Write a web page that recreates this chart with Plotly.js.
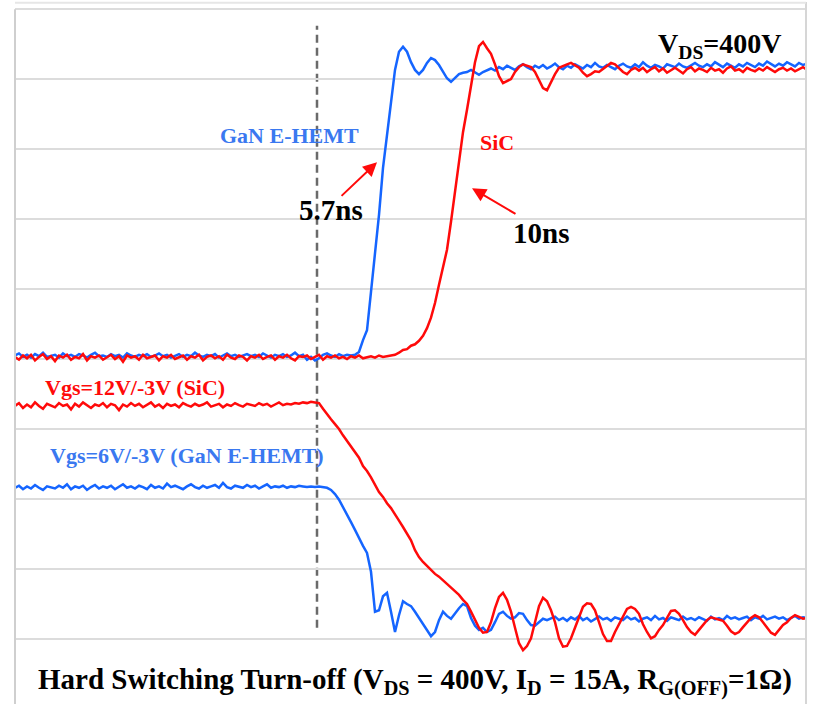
<!DOCTYPE html>
<html>
<head>
<meta charset="utf-8">
<script src="https://cdn.plot.ly/plotly-3.0.1.min.js"></script>
<style>html,body{margin:0;padding:0;background:#fff;}#chart{width:813px;height:704px;}</style>
</head>
<body>
<div id="chart"></div>
<script>
// Oscilloscope capture: sample interval 0.5 time-units, start at 0.
// Vertical values in screen divisions (grid = 1 div).
var sampleStart = 0;
var sampleStep = 0.5;

var ganVds = [
4.05,4.08,4.03,4.06,4.02,4.07,4.04,4.09,4.03,4.05,
4.06,4.02,4.08,4.04,4.06,4.03,4.07,4.05,4.02,4.06,
4.09,4.04,4.05,4.03,4.07,4.04,4.06,4.02,4.08,4.05,
4.03,4.06,4.04,4.07,4.03,4.05,4.08,4.04,4.06,4.02,
4.05,4.07,4.03,4.06,4.04,4.09,4.05,4.03,4.06,4.04,
4.07,4.02,4.05,4.08,4.04,4.06,4.03,4.05,4.07,4.04,
4.06,4.03,4.08,4.05,4.02,4.06,4.04,4.07,4.03,4.05,
4.09,4.04,4.06,3.99,4.03,3.98,4.01,4.06,4.08,4.05,
4.03,4.07,4.04,4.06,4.05,
4.06,4.10,4.27,4.41,4.96,5.49,6.06,6.73,7.20,7.70,
8.13,8.39,8.46,8.39,8.24,8.13,8.07,8.13,8.23,8.30,
8.27,8.20,8.10,8.01,7.96,8.01,8.07,8.09,8.10,8.13,
8.10,8.06,8.10,8.13,
8.15,8.12,8.17,8.14,8.19,8.16,8.13,8.18,8.21,8.17,
8.14,8.19,8.16,8.20,8.15,8.18,8.22,8.17,8.14,8.19,
8.16,8.21,8.18,8.15,8.20,8.17,8.23,8.18,8.16,8.20,
8.17,8.14,8.19,8.22,8.18,8.16,8.21,8.17,8.24,8.19,
8.16,8.20,8.18,8.15,8.21,8.19,8.17,8.22,8.18,8.16,
8.20,8.23,8.19,8.17,8.21,8.18,8.24,8.20,8.17,8.22,
8.19,8.16,8.21,8.18,8.23,8.20,8.17,8.22,8.19,8.25,
8.21,8.18,8.22,8.19,8.24,8.21,8.18,8.23,8.20,8.22
];

var sicVds = [
4.03,3.99,4.05,4.01,4.06,3.98,4.03,4.07,4.00,4.04,
3.97,4.05,4.02,4.06,3.99,4.03,4.01,4.07,3.98,4.04,
4.02,4.05,3.99,4.03,4.06,4.00,4.04,3.96,4.05,4.02,
4.04,3.99,4.06,4.01,4.03,4.05,3.98,4.04,4.02,4.06,
4.00,4.03,4.05,3.99,4.04,4.02,4.06,3.98,4.03,4.05,
4.01,4.04,3.99,4.06,4.02,4.00,4.05,4.03,3.98,4.04,
4.02,4.06,4.00,4.03,4.05,3.99,4.04,4.02,4.06,4.01,
3.98,4.04,4.03,4.05,4.00,4.03,4.06,3.99,4.04,4.02,
4.05,4.01,4.03,4.00,4.04,4.02,4.05,4.01,4.03,4.04,
4.02,4.05,4.03,4.04,
4.04,4.06,4.09,4.13,4.14,4.19,4.21,4.26,4.33,4.44,
4.59,4.80,5.06,5.30,5.56,5.96,6.37,6.80,7.24,7.56,
7.91,8.24,8.47,8.53,8.44,8.36,8.21,8.04,7.94,7.97,
8.00,8.10,8.17,8.21,8.19,8.17,8.10,7.99,7.87,7.84,
7.96,8.07,8.16,8.19,8.21,8.23,8.20,8.16,8.09,8.04,
8.07,8.11,8.10,8.14,8.19,8.23,8.21,8.16,8.10,8.07,
8.13,8.16,
8.12,8.16,8.10,8.14,8.17,8.11,8.15,8.09,8.13,8.16,
8.12,8.08,8.14,8.17,8.11,8.15,8.13,8.10,8.16,8.12,
8.14,8.09,8.15,8.18,8.12,8.14,8.10,8.16,8.13,8.11,
8.15,8.12,8.17,8.13,8.10,8.14,8.16,8.12,8.15,8.11,
8.14,8.17,8.13
];

var sicVgs = [
3.33,3.37,3.30,3.35,3.31,3.38,3.33,3.29,3.36,3.34,
3.31,3.37,3.33,3.35,3.28,3.36,3.32,3.38,3.34,3.30,
3.35,3.33,3.37,3.31,3.36,3.34,3.27,3.35,3.32,3.37,
3.33,3.36,3.31,3.34,3.38,3.32,3.35,3.30,3.36,3.33,
3.35,3.31,3.37,3.34,3.32,3.36,3.33,3.35,3.38,3.32,
3.34,3.36,3.31,3.35,3.33,3.37,3.34,3.32,3.36,3.35,
3.33,3.37,3.34,3.36,3.32,3.35,3.38,3.34,3.36,3.35,
3.37,3.36,3.38,3.37,3.39,3.38,
3.37,3.29,3.21,3.14,3.07,3.00,2.91,2.83,2.76,2.67,
2.59,2.47,2.40,2.31,2.21,2.10,2.03,1.94,1.87,1.77,
1.69,1.60,1.50,1.41,1.27,1.17,1.10,1.04,0.99,0.93,
0.89,0.84,0.79,0.74,0.69,0.63,0.56,0.50,0.39,0.27,
0.16,0.09,0.10,0.24,0.44,0.60,0.66,0.56,0.39,0.16,
-0.06,-0.16,-0.10,0.01,0.24,0.47,0.59,0.54,0.41,0.24,
0.01,-0.11,-0.10,0.01,0.16,0.30,0.46,0.51,0.50,0.41,
0.24,0.07,-0.03,-0.03,0.10,0.21,0.33,0.43,0.46,0.43,
0.36,0.21,0.10,0.01,0.04,0.13,0.20,0.30,0.40,0.41,
0.36,0.27,0.17,0.10,0.06,0.13,0.20,0.27,0.31,0.29,
0.27,0.26,0.19,0.11,0.07,0.10,0.17,0.24,0.30,0.34,
0.31,0.24,0.16,0.09,0.06,0.13,0.20,0.24,0.30,0.34,
0.31,0.29,0.30
];

var ganVgs = [
2.16,2.19,2.14,2.18,2.15,2.20,2.16,2.13,2.18,2.17,
2.15,2.19,2.16,2.21,2.14,2.18,2.16,2.19,2.13,2.17,
2.20,2.15,2.18,2.16,2.19,2.14,2.17,2.21,2.16,2.18,
2.15,2.19,2.17,2.14,2.20,2.16,2.18,2.15,2.22,2.17,
2.19,2.16,2.14,2.18,2.21,2.17,2.15,2.19,2.16,2.18,
2.20,2.16,2.23,2.17,2.15,2.19,2.18,2.16,2.20,2.17,
2.19,2.15,2.18,2.21,2.16,2.18,2.17,2.19,2.16,2.18,
2.17,2.19,2.18,2.17,2.18,2.17,2.18,
2.17,2.16,2.13,2.07,1.99,1.89,1.79,1.67,1.56,1.44,
1.33,1.23,0.96,0.39,0.41,0.61,0.66,0.39,0.10,0.34,
0.54,0.50,0.47,0.39,0.30,0.21,0.13,0.04,0.10,0.27,
0.39,0.33,0.29,0.37,0.44,0.50,0.47,0.30,0.19,0.13,
0.16,0.10,0.13,0.24,0.36,0.39,0.33,0.29,0.31,0.37,
0.36,0.27,0.20,0.19,0.24,0.29,0.27,
0.29,0.32,0.27,0.30,0.26,0.31,0.28,0.33,0.27,0.30,
0.25,0.29,0.32,0.28,0.30,0.26,0.31,0.29,0.27,0.32,
0.28,0.30,0.25,0.29,0.31,0.27,0.33,0.28,0.30,0.26,
0.31,0.29,0.27,0.32,0.28,0.30,0.27,0.31,0.29,0.26,
0.32,0.28,0.30,0.27,0.33,0.29,0.31,0.28,0.30,0.32,
0.27,0.31,0.29,0.33,0.28,0.30,0.32,0.29,0.31,0.27,
0.30,0.33,0.29,0.31,0.30
];

var seriesNames = ['GaN E-HEMT V_DS', 'SiC V_DS', 'GaN E-HEMT Vgs', 'SiC Vgs'];
var triggerTime = 37.75;
var blue = '#1565ff';
var red = '#ff0a0a';
var blueText = '#3a78f0';
var serif = 'Liberation Serif, Times New Roman, serif';

function trace(y, color, name) {
  return {type: 'scatter', mode: 'lines', y: y, x0: sampleStart, dx: sampleStep,
          name: name, line: {color: color, width: 2.5}, hoverinfo: 'skip'};
}

var data = [
  trace(ganVds, blue, seriesNames[0]),
  trace(ganVgs, blue, seriesNames[2]),
  trace(sicVds, red, seriesNames[1]),
  trace(sicVgs, red, seriesNames[3])
];

function label(text, x, y, color, size) {
  return {text: '<b>' + text + '</b>', x: x, y: y, xref: 'x', yref: 'y', showarrow: false,
          xanchor: 'center', yanchor: 'middle', font: {family: serif, size: size, color: color}};
}
function arrow(hx, hy, tx, ty) {
  return {text: '', x: hx, y: hy, ax: tx, ay: ty, xref: 'x', yref: 'y', axref: 'x', ayref: 'y',
          showarrow: true, arrowhead: 2, arrowsize: 1.4, arrowwidth: 2, arrowcolor: red};
}

var layout = {
  width: 813, height: 704,
  margin: {l: 15, r: 7, t: 2, b: 44},
  paper_bgcolor: '#fff', plot_bgcolor: '#fff',
  showlegend: false,
  xaxis: {range: [0, 98.875], showgrid: false, zeroline: false, showticklabels: false,
          ticks: '', showline: false, fixedrange: true},
  yaxis: {range: [-0.3, 9.1], tick0: 0, dtick: 1, showgrid: true, gridcolor: '#dcdcdc', gridwidth: 2,
          zeroline: false, showticklabels: false, ticks: '', showline: false, fixedrange: true},
  shapes: [
    {type: 'line', xref: 'x', yref: 'y', x0: triggerTime, x1: triggerTime, y0: 0.16, y1: 8.76,
     line: {color: '#6a6a6a', width: 2.5, dash: '8px,5px'}, layer: 'below'},
    {type: 'line', xref: 'paper', yref: 'paper', x0: 0, x1: 0, y0: -0.07, y1: 0.989,
     line: {color: '#cfcfcf', width: 2}},
    {type: 'line', xref: 'paper', yref: 'paper', x0: 1, x1: 1, y0: -0.07, y1: 1.0,
     line: {color: '#d6d6d6', width: 2}},
    {type: 'line', xref: 'paper', yref: 'paper', x0: 0, x1: 1, y0: 0.999, y1: 0.999,
     line: {color: '#e6e6e6', width: 2}}
  ],
  annotations: [
    label('V<sub>DS</sub>=400V', 88.1, 8.48, '#000', 28),
    label('GaN E-HEMT', 34.25, 7.19, blueText, 22),
    label('SiC', 60.3, 7.10, red, 22),
    label('5.7ns', 39.5, 6.13, '#000', 29),
    label('10ns', 65.75, 5.80, '#000', 29),
    label('Vgs=12V/-3V (SiC)', 14.94, 3.59, red, 22),
    label('Vgs=6V/-3V (GaN E-HEMT)', 21.56, 2.62, blueText, 22),
    arrow(45.25, 6.81, 40.63, 6.31),
    arrow(57.13, 6.44, 62.75, 6.06),
    {text: '<b>Hard Switching Turn-off (V<sub>DS</sub> = 400V, I<sub>D</sub> = 15A, R<sub>G(OFF)</sub>=1Ω)</b>',
     xref: 'paper', yref: 'paper', x: 0.5057, y: -0.032, showarrow: false, xanchor: 'center', yanchor: 'middle',
     font: {family: serif, size: 29, color: '#000'}}
  ]
};

Plotly.newPlot('chart', data, layout, {staticPlot: true, displayModeBar: false});
</script>
</body>
</html>
